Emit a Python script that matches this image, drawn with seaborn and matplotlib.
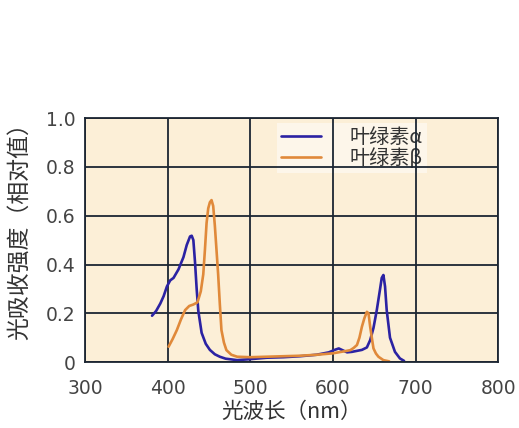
import numpy as np
import pandas as pd
import matplotlib
matplotlib.use('Agg')
import matplotlib.pyplot as plt
import seaborn as sns

# 叶绿素a 吸收光谱 (波长 nm, 相对吸收)
wl_a = [381, 386, 391, 395, 399, 403, 407, 413, 419, 423, 427, 429, 431, 433, 435,
        437, 441, 446, 451, 457, 463, 470, 484, 500, 520, 540, 560, 580, 595,
        602, 607, 612, 617, 623, 629, 635, 641, 645, 649, 653, 657, 659, 661,
        663, 665, 669, 675, 681, 686]
abs_a = [0.19, 0.21, 0.24, 0.27, 0.31, 0.335, 0.345, 0.38, 0.43, 0.48, 0.515, 0.518, 0.50, 0.41, 0.30,
         0.21, 0.12, 0.075, 0.05, 0.032, 0.022, 0.014, 0.008, 0.012, 0.018, 0.02, 0.024, 0.03, 0.04,
         0.05, 0.056, 0.048, 0.04, 0.042, 0.046, 0.05, 0.06, 0.09, 0.14, 0.213, 0.30, 0.345, 0.357,
         0.31, 0.213, 0.10, 0.042, 0.015, 0.005]

# 叶绿素β 吸收光谱
wl_b = [401, 406, 411, 416, 421, 426, 431, 436, 440, 443, 445, 447, 449, 451, 453,
        455, 457, 459, 461, 463, 465, 468, 471, 477, 484, 500, 520, 540, 560,
        580, 600, 615, 621, 625, 629, 632, 635, 638, 641, 643, 645, 647, 649,
        652, 655, 661, 668]
abs_b = [0.063, 0.095, 0.131, 0.175, 0.213, 0.23, 0.236, 0.245, 0.29, 0.36, 0.46, 0.57, 0.63, 0.655, 0.664,
         0.64, 0.56, 0.46, 0.36, 0.24, 0.131, 0.08, 0.049, 0.03, 0.022, 0.02, 0.022, 0.024, 0.026,
         0.03, 0.036, 0.045, 0.049, 0.058, 0.07, 0.10, 0.145, 0.18, 0.206, 0.20, 0.145, 0.10, 0.056,
         0.035, 0.022, 0.008, 0.003]

labels = ['叶绿素α', '叶绿素β']
x_ticks = [300, 400, 500, 600, 700, 800]
y_ticks = [0, 0.2, 0.4, 0.6, 0.8, 1.0]
y_ticklabels = ['0', '0.2', '0.4', '0.6', '0.8', '1.0']

BLUE = '#2b22a3'
ORANGE = '#e0893a'
GRID = '#1c2633'

sns.set_style('white', {'axes.facecolor': '#fcefd7'})
plt.rcParams['font.family'] = ['Noto Sans CJK SC', 'DejaVu Sans']

fig = plt.figure(figsize=(5.19, 4.28), dpi=100)
ax = fig.add_axes([0.164, 0.154, 0.796, 0.570])

sns.lineplot(x=wl_a, y=abs_a, color=BLUE, linewidth=1.9, label=labels[0], ax=ax)
sns.lineplot(x=wl_b, y=abs_b, color=ORANGE, linewidth=1.9, label=labels[1], ax=ax)

ax.set_xlim(300, 800)
ax.set_ylim(0, 1.0)
ax.set_xticks(x_ticks)
ax.set_yticks(y_ticks)
ax.set_yticklabels(y_ticklabels)
ax.tick_params(length=0, labelsize=13.5, labelcolor='#444444')
ax.tick_params(axis='x', pad=12)
ax.tick_params(axis='y', pad=7)
for lab in ax.get_xticklabels() + ax.get_yticklabels():
    lab.set_family('DejaVu Sans')

ax.set_axisbelow('line')
ax.grid(True, color=GRID, linewidth=1.3)
for s in ax.spines.values():
    s.set_color(GRID)
    s.set_linewidth(1.3)

ax.set_xlabel('光波长（nm）', fontsize=15.5, color='#333333')
ax.set_ylabel('光吸收强度（相对值）', fontsize=16.5, color='#333333')
ax.xaxis.set_label_coords(0.5, -0.16)
ax.yaxis.set_label_coords(-0.13, 0.56)

leg = ax.legend(loc='upper left', bbox_to_anchor=(0.44, 1.02), frameon=True,
                fontsize=14.5, handlelength=2.0, handletextpad=1.4, labelspacing=0.0,
                borderpad=0.2, fancybox=False)
leg.get_frame().set_facecolor('#fdf6ea')
leg.get_frame().set_edgecolor('none')
leg.get_frame().set_alpha(1)
leg.set_zorder(1)
for t in leg.get_texts():
    t.set_color('#333333')

fig.savefig('out.png', dpi=100)
